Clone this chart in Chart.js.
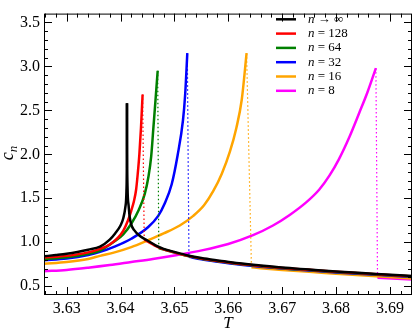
<!DOCTYPE html>
<html>
<head>
<meta charset="utf-8">
<script src="https://cdn.jsdelivr.net/npm/chart.js@4"></script>
<style>
  html, body { margin: 0; padding: 0; background: #fff; }
  #wrap { width: 415px; height: 331px; }
</style>
</head>
<body>
<div id="wrap"><canvas id="specificHeat"></canvas></div>
<script>
// Tick labels
const xTicks = [3.63, 3.64, 3.65, 3.66, 3.67, 3.68, 3.69];
const yTicks = [0.5, 1.0, 1.5, 2.0, 2.5, 3.0, 3.5];

// Legend
const seriesLabels = ['n → ∞', 'n = 128', 'n = 64', 'n = 32', 'n = 16', 'n = 8'];
const seriesColors = ['#000000', '#ff0000', '#008000', '#0000ff', '#ffa500', '#ff00ff'];

// n -> infinity: rise to the cusp, then the fall after it
const infUpT = [3.6258, 3.628, 3.630, 3.632, 3.634, 3.6362, 3.638, 3.639, 3.640, 3.6405, 3.6409, 3.6411, 3.64118, 3.6412];
const infUpC = [0.84, 0.855, 0.87, 0.89, 0.915, 0.95, 1.03, 1.10, 1.19, 1.27, 1.40, 1.58, 2.00, 2.58];
const infDownT = [3.6412, 3.64122, 3.6413, 3.6415, 3.6417, 3.6420, 3.6425, 3.6436, 3.645, 3.6465, 3.648, 3.650, 3.6525, 3.655, 3.6584, 3.662, 3.666, 3.670, 3.675, 3.680, 3.6875, 3.6941];
const infDownC = [2.58, 2.10, 1.63, 1.42, 1.29, 1.20, 1.14, 1.07, 1.02, 0.965, 0.925, 0.89, 0.85, 0.82, 0.79, 0.76, 0.735, 0.712, 0.69, 0.668, 0.64, 0.615];

// n = 128: rise up to the peak, then the branch after the drop
const up128T = [3.6258, 3.630, 3.634, 3.6362, 3.638, 3.6395, 3.6405, 3.6414, 3.6420, 3.6425, 3.6429, 3.6432, 3.6435, 3.6438, 3.6441];
const up128C = [0.825, 0.845, 0.885, 0.925, 0.975, 1.05, 1.13, 1.25, 1.36, 1.47, 1.60, 1.78, 2.00, 2.30, 2.68];
const low128T = [3.6444, 3.645, 3.6475, 3.650, 3.6525, 3.655, 3.6584, 3.662, 3.666, 3.670, 3.675, 3.680, 3.6875, 3.6941];
const low128C = [1.03, 1.01, 0.93, 0.885, 0.845, 0.815, 0.785, 0.755, 0.73, 0.708, 0.686, 0.664, 0.636, 0.612];

// n = 64
const up64T = [3.6258, 3.630, 3.634, 3.6362, 3.6389, 3.6405, 3.6420, 3.6434, 3.6445, 3.6452, 3.6457, 3.6461, 3.6465, 3.6469];
const up64C = [0.81, 0.83, 0.87, 0.905, 1.01, 1.09, 1.21, 1.37, 1.55, 1.75, 1.98, 2.30, 2.62, 2.95];
const low64T = [3.6471, 3.650, 3.6525, 3.655, 3.6584, 3.662, 3.666, 3.670, 3.675, 3.680, 3.6875, 3.6941];
const low64C = [0.935, 0.882, 0.842, 0.812, 0.782, 0.752, 0.728, 0.705, 0.683, 0.662, 0.634, 0.61];

// n = 32
const up32T = [3.6258, 3.630, 3.634, 3.6362, 3.6389, 3.6420, 3.6451, 3.6470, 3.6482, 3.6495, 3.6506, 3.6516, 3.6520, 3.6524];
const up32C = [0.795, 0.815, 0.855, 0.89, 0.95, 1.04, 1.17, 1.30, 1.44, 1.66, 1.99, 2.39, 2.68, 3.15];
const low32T = [3.6527, 3.655, 3.6584, 3.662, 3.666, 3.670, 3.675, 3.680, 3.6875, 3.6941];
const low32C = [0.835, 0.805, 0.775, 0.747, 0.722, 0.70, 0.678, 0.657, 0.63, 0.606];

// n = 16
const up16T = [3.6258, 3.630, 3.634, 3.6362, 3.6389, 3.6420, 3.6450, 3.6480, 3.6510, 3.6535, 3.6555, 3.6572, 3.6588, 3.6603, 3.6615, 3.6625, 3.6634];
const up16C = [0.755, 0.775, 0.81, 0.845, 0.885, 0.945, 1.02, 1.10, 1.19, 1.30, 1.42, 1.58, 1.78, 2.03, 2.30, 2.62, 3.15];
const low16T = [3.6643, 3.666, 3.670, 3.675, 3.680, 3.6875, 3.6941];
const low16C = [0.715, 0.705, 0.685, 0.663, 0.643, 0.612, 0.588];

// n = 8
const up8T = [3.6258, 3.630, 3.634, 3.638, 3.642, 3.646, 3.650, 3.6553, 3.660, 3.6646, 3.6683, 3.6714, 3.6744, 3.6769, 3.6788, 3.6805, 3.6825, 3.6843, 3.6858, 3.6874];
const up8C = [0.67, 0.685, 0.71, 0.74, 0.775, 0.81, 0.85, 0.91, 0.98, 1.08, 1.19, 1.31, 1.45, 1.60, 1.76, 1.94, 2.20, 2.47, 2.70, 2.98];
const low8T = [3.6877, 3.6941];
const low8C = [0.595, 0.575];

function toPoints(ts, cs) {
    return ts.map((t, i) => ({ x: t, y: cs[i] }));
}

function solid(i, ts, cs) {
    return {
        label: seriesLabels[i],
        data: toPoints(ts, cs),
        borderColor: seriesColors[i],
        borderWidth: 2.5,
        pointRadius: 0,
        cubicInterpolationMode: 'monotone',
        borderJoinStyle: 'round'
    };
}

// thin dotted drop from the peak down to the branch after it
function drop(i, upT, upC, lowT, lowC) {
    const n = upT.length - 1;
    return {
        label: seriesLabels[i] + ' drop',
        data: toPoints([upT[n], lowT[0]], [upC[n], lowC[0]]),
        borderColor: seriesColors[i],
        borderWidth: 1.2,
        borderDash: [1.5, 2.5],
        pointRadius: 0
    };
}

const datasets = [
    solid(0, infUpT, infUpC),
    solid(0, infDownT, infDownC),
    solid(1, up128T, up128C), drop(1, up128T, up128C, low128T, low128C), solid(1, low128T, low128C),
    solid(2, up64T, up64C), drop(2, up64T, up64C, low64T, low64C), solid(2, low64T, low64C),
    solid(3, up32T, up32C), drop(3, up32T, up32C, low32T, low32C), solid(3, low32T, low32C),
    solid(4, up16T, up16C), drop(4, up16T, up16C, low16T, low16C), solid(4, low16T, low16C),
    solid(5, up8T, up8C), drop(5, up8T, up8C, low8T, low8C), solid(5, low8T, low8C)
];

const serif = '"Liberation Serif", "DejaVu Serif", serif';

// frame, inward ticks, axis titles and legend
const decorations = {
    id: 'decorations',
    afterDraw(chart) {
        const ctx = chart.ctx;
        const a = chart.chartArea;
        const xs = chart.scales.x, ys = chart.scales.y;
        ctx.save();
        ctx.strokeStyle = '#000';
        ctx.lineWidth = 1;
        ctx.strokeRect(a.left + 0.5, a.top + 0.5, a.right - a.left - 1, a.bottom - a.top - 1);

        ctx.beginPath();
        for (let k = 0; k <= 40; k++) {
            const v = 3.624 + k * 0.002;
            const px = Math.round(xs.getPixelForValue(v)) + 0.5;
            if (px <= a.left + 1 || px >= a.right - 1) continue;
            const len = (k % 5 === 3) ? 8 : 4;
            ctx.moveTo(px, a.bottom); ctx.lineTo(px, a.bottom - len);
            ctx.moveTo(px, a.top); ctx.lineTo(px, a.top + len);
        }
        for (let k = 0; k <= 32; k++) {
            const v = 0.4 + k * 0.1;
            const py = Math.round(ys.getPixelForValue(v)) + 0.5;
            if (py <= a.top + 1 || py >= a.bottom - 1) continue;
            const len = (k % 5 === 1) ? 8 : 4;
            ctx.moveTo(a.left, py); ctx.lineTo(a.left + len, py);
            ctx.moveTo(a.right, py); ctx.lineTo(a.right - len, py);
        }
        ctx.stroke();

        // axis titles
        ctx.fillStyle = '#000';
        ctx.textAlign = 'center';
        ctx.textBaseline = 'alphabetic';
        ctx.font = 'italic 17px ' + serif;
        ctx.fillText('T', (a.left + a.right) / 2, 328);

        ctx.save();
        ctx.translate(13, (a.top + a.bottom) / 2 + 6);
        ctx.rotate(-Math.PI / 2);
        ctx.textAlign = 'left';
        ctx.font = 'italic 18px ' + serif;
        const cw = ctx.measureText('c').width;
        ctx.fillText('c', 0, 0);
        ctx.font = 'italic 13px ' + serif;
        ctx.fillText('n', cw, 4);
        ctx.restore();

        // legend
        ctx.textAlign = 'left';
        ctx.textBaseline = 'middle';
        seriesLabels.forEach((label, i) => {
            const y = 19.3 + i * 14.3;
            ctx.strokeStyle = seriesColors[i];
            ctx.lineWidth = 2.5;
            ctx.beginPath();
            ctx.moveTo(276, y);
            ctx.lineTo(296, y);
            ctx.stroke();
            ctx.fillStyle = '#000';
            ctx.font = 'italic 13px ' + serif;
            ctx.fillText(label.charAt(0), 308, y);
            const w = ctx.measureText(label.charAt(0)).width;
            ctx.font = '13px ' + serif;
            ctx.fillText(label.slice(1), 308 + w, y);
        });
        ctx.restore();
    }
};

new Chart(document.getElementById('specificHeat'), {
    type: 'line',
    data: { datasets: datasets },
    options: {
        responsive: true,
        maintainAspectRatio: false,
        animation: false,
        events: [],
        layout: { padding: { left: 0, top: 2, right: 3, bottom: 0 } },
        plugins: {
            legend: { display: false },
            tooltip: { enabled: false }
        },
        scales: {
            x: {
                type: 'linear',
                min: 3.6258,
                max: 3.6941,
                grid: { display: false, drawTicks: false },
                border: { display: false },
                afterBuildTicks: s => { s.ticks = xTicks.map(v => ({ value: v })); },
                afterFit: s => { s.height = 36; },
                ticks: {
                    padding: 4,
                    color: '#000',
                    font: { family: serif, size: 16 },
                    callback: v => v.toFixed(2)
                }
            },
            y: {
                type: 'linear',
                min: 0.4,
                max: 3.6,
                grid: { display: false, drawTicks: false },
                border: { display: false },
                afterBuildTicks: s => { s.ticks = yTicks.map(v => ({ value: v })); },
                afterFit: s => { s.width = 44; },
                ticks: {
                    padding: 4,
                    color: '#000',
                    font: { family: serif, size: 16 },
                    callback: v => v.toFixed(1)
                }
            }
        }
    },
    plugins: [decorations]
});
</script>
</body>
</html>
